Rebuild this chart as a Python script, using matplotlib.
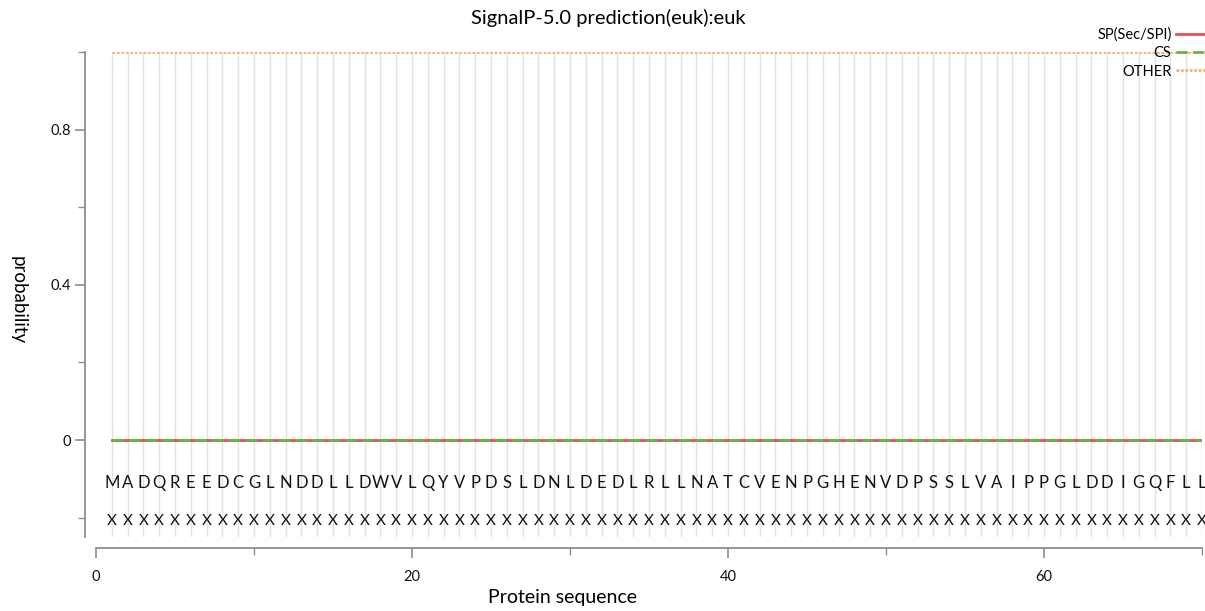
import matplotlib
matplotlib.use("Agg")
import matplotlib.pyplot as plt
from matplotlib.ticker import FixedLocator, FuncFormatter

plt.rcParams["font.family"] = ["Lato", "DejaVu Sans"]

# ── data ────────────────────────────────────────────────────────────────────
sequence = "MADQREEDCGLNDDLLDWVLQYVPDSLDNLDEDLRLLNATCVENPGHENVDPSSLVAIPPGLDDIGQFLL"
annotation = "XXXXXXXXXXXXXXXXXXXXXXXXXXXXXXXXXXXXXXXXXXXXXXXXXXXXXXXXXXXXXXXXXXXXXX"
positions = list(range(1, len(sequence) + 1))

sp_prob = [
    0.0, 0.0, 0.0, 0.0, 0.0, 0.0, 0.0, 0.0, 0.0, 0.0,
    0.0, 0.0, 0.0, 0.0, 0.0, 0.0, 0.0, 0.0, 0.0, 0.0,
    0.0, 0.0, 0.0, 0.0, 0.0, 0.0, 0.0, 0.0, 0.0, 0.0,
    0.0, 0.0, 0.0, 0.0, 0.0, 0.0, 0.0, 0.0, 0.0, 0.0,
    0.0, 0.0, 0.0, 0.0, 0.0, 0.0, 0.0, 0.0, 0.0, 0.0,
    0.0, 0.0, 0.0, 0.0, 0.0, 0.0, 0.0, 0.0, 0.0, 0.0,
    0.0, 0.0, 0.0, 0.0, 0.0, 0.0, 0.0, 0.0, 0.0, 0.0,
]
cs_prob = [
    0.0, 0.0, 0.0, 0.0, 0.0, 0.0, 0.0, 0.0, 0.0, 0.0,
    0.0, 0.0, 0.0, 0.0, 0.0, 0.0, 0.0, 0.0, 0.0, 0.0,
    0.0, 0.0, 0.0, 0.0, 0.0, 0.0, 0.0, 0.0, 0.0, 0.0,
    0.0, 0.0, 0.0, 0.0, 0.0, 0.0, 0.0, 0.0, 0.0, 0.0,
    0.0, 0.0, 0.0, 0.0, 0.0, 0.0, 0.0, 0.0, 0.0, 0.0,
    0.0, 0.0, 0.0, 0.0, 0.0, 0.0, 0.0, 0.0, 0.0, 0.0,
    0.0, 0.0, 0.0, 0.0, 0.0, 0.0, 0.0, 0.0, 0.0, 0.0,
]
other_prob = [
    1.0, 1.0, 1.0, 1.0, 1.0, 1.0, 1.0, 1.0, 1.0, 1.0,
    1.0, 1.0, 1.0, 1.0, 1.0, 1.0, 1.0, 1.0, 1.0, 1.0,
    1.0, 1.0, 1.0, 1.0, 1.0, 1.0, 1.0, 1.0, 1.0, 1.0,
    1.0, 1.0, 1.0, 1.0, 1.0, 1.0, 1.0, 1.0, 1.0, 1.0,
    1.0, 1.0, 1.0, 1.0, 1.0, 1.0, 1.0, 1.0, 1.0, 1.0,
    1.0, 1.0, 1.0, 1.0, 1.0, 1.0, 1.0, 1.0, 1.0, 1.0,
    1.0, 1.0, 1.0, 1.0, 1.0, 1.0, 1.0, 1.0, 1.0, 1.0,
]

_C = {
    "sp":    "#ee4b5f",
    "cs":    "#62b847",
    "other": "#f2b27e",
    "grid":  "#e2e2e2",
    "axis":  "#8c8c8c",
}

fig = plt.figure(figsize=(12.05, 6.11), dpi=100)
ax = fig.add_axes([96 / 1205, 1 - 537 / 611, (1202 - 96) / 1205, (537 - 52) / 611])

# per-residue vertical guide lines
for p in positions:
    ax.axvline(p, color=_C["grid"], lw=1.0, zorder=0)

ax.plot(positions, sp_prob, color=_C["sp"], lw=2.0, label="SP(Sec/SPI)", zorder=3)
ax.plot(positions, cs_prob, color=_C["cs"], lw=2.0, ls=(0, (4, 2)), label="CS", zorder=4)
ax.plot(positions, other_prob, color=_C["other"], lw=2.0, ls=(0, (1, 0.6)), label="OTHER", zorder=3)

# sequence rows
for p, aa, an in zip(positions, sequence, annotation):
    ax.text(p, -0.11, aa, ha="center", va="center", fontsize=12, color="#111111")
    ax.text(p, -0.21, an, ha="center", va="center", fontsize=11, color="#111111")

ax.set_xlim(0, 70)
ax.set_ylim(-0.25, 1.0)

for side in ("top", "right"):
    ax.spines[side].set_visible(False)
ax.spines["left"].set_position(("outward", 8))
ax.spines["bottom"].set_position(("outward", 8))
ax.spines["left"].set_color(_C["axis"])
ax.spines["bottom"].set_color(_C["axis"])
ax.spines["left"].set_linewidth(1.3)
ax.spines["bottom"].set_linewidth(1.3)

ax.xaxis.set_major_locator(FixedLocator([0, 20, 40, 60]))
ax.xaxis.set_minor_locator(FixedLocator([10, 30, 50, 70]))
ax.yaxis.set_major_locator(FixedLocator([0, 0.4, 0.8]))
ax.yaxis.set_minor_locator(FixedLocator([-0.2, 0.2, 0.6, 1.0]))
ax.yaxis.set_major_formatter(FuncFormatter(lambda v, _: "0" if v == 0 else f"{v:.1f}"))

ax.tick_params(axis="both", which="major", length=7, width=1.2, color=_C["axis"],
               labelsize=10.5, labelcolor="#111111")
ax.tick_params(axis="both", which="minor", length=5, width=1.0, color=_C["axis"])
ax.tick_params(axis="x", which="major", pad=9)
ax.tick_params(axis="y", which="major", pad=3)

# axis titles placed in figure coordinates, as in the source layout
fig.text(563 / 1205, 1 - 598 / 611, "Protein sequence", fontsize=14,
         ha="center", va="center")
fig.text(18 / 1205, 1 - 300 / 611, "probability", fontsize=13.5,
         rotation=270, ha="center", va="center")

fig.suptitle("SignalP-5.0 prediction(euk):euk", fontsize=14.5, x=0.505, y=0.985)

fig.legend(loc="upper right", bbox_to_anchor=(1.0, 0.955), frameon=False,
           markerfirst=False, fontsize=10.5, handlelength=2.0, handletextpad=0.3,
           labelspacing=0.3, borderpad=0, borderaxespad=0)

fig.savefig("out.png", dpi=100)
